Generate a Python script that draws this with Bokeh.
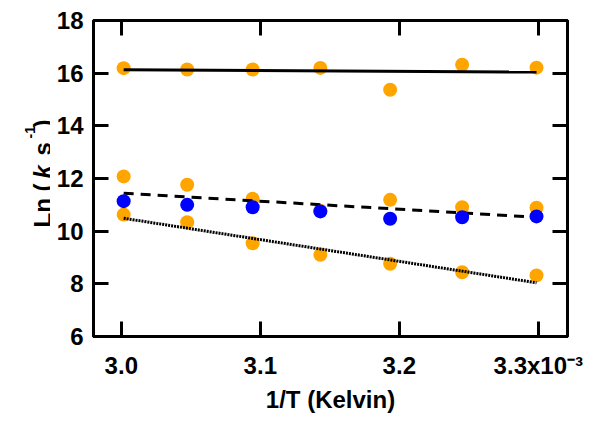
import math
from bokeh.plotting import figure
from bokeh.models import LinearAxis, FixedTicker, Range1d
from bokeh.layouts import row
from bokeh.core.properties import value
from bokeh.embed import file_html
from bokeh.resources import INLINE

# ---- data (1/T in units of 1e-3 K^-1) ----
inv_t = [3.0017, 3.0474, 3.0945, 3.1432, 3.1934, 3.2452, 3.2987]
top_orange = [16.19, 16.14, 16.14, 16.20, 15.37, 16.32, 16.21]
mid_orange = [12.08, 11.76, 11.23, 10.78, 11.19, 10.91, 10.89]
low_orange = [10.63, 10.34, 9.54, 9.10, 8.76, 8.44, 8.32]
blue_vals = [11.14, 11.00, 10.91, 10.75, 10.47, 10.53, 10.56]

fit_x = [3.0017, 3.2987]
fit_solid = [16.13, 16.04]
fit_dashed = [11.44, 10.53]
fit_dotted = [10.49, 8.04]

x_ticks = [3.0, 3.1, 3.2, 3.3]
x_tick_labels = ["3.0", "3.1", "3.2", "3.3x10\u207b\u00b3"]
y_ticks = [6, 8, 10, 12, 14, 16, 18]

ORANGE = "#FFA500"
BLUE = "#0000FF"
FONT = "Liberation Sans"

H = 417
LW = 50          # width of the y-title strip
W = 544          # width of main figure
FRAME_H = 316    # frame height (the row aligns both frames)

# ---- y-axis title strip (its frame is aligned with the main frame) ----
yl = figure(width=LW, height=H, output_backend="svg", toolbar_location=None,
            x_range=Range1d(0, LW), y_range=Range1d(0, FRAME_H),
            x_axis_type=None, y_axis_type=None,
            min_border_left=0, min_border_right=0,
            min_border_top=20, min_border_bottom=H - 336)
yl.grid.visible = False
yl.outline_line_color = None
yl.background_fill_color = "white"
yl.border_fill_color = "white"
pieces = [
    ("Ln (", 109, 42, "bold", "24px"),
    ("k", 158, 42, "bold italic", "24px"),
    ("s", 181, 42, "bold", "24px"),
    ("-1", 198, 29, "bold", "14px"),
    (")", 209, 42, "bold", "24px"),
]
for txt, yy, xx, style, fs in pieces:
    yl.text(x=[xx], y=[yy], text=[txt], angle=math.pi / 2,
            text_align="left", text_baseline="alphabetic",
            text_font=value(FONT), text_font_style=style,
            text_font_size=fs, text_color="black")

# ---- main plot ----
p = figure(width=W, height=H, output_backend="svg", toolbar_location=None,
           x_range=Range1d(2.98, 3.321), y_range=Range1d(6, 18),
           x_axis_type=None, y_axis_type=None)
p.min_border_left = 93 - LW
p.min_border_right = LW + W - 567
p.min_border_top = 20
p.min_border_bottom = H - 336
p.grid.visible = False
p.outline_line_color = "black"
p.outline_line_width = 3
p.background_fill_color = "white"
p.border_fill_color = "white"

def make_axis(ticks, show_labels):
    ax = LinearAxis(ticker=FixedTicker(ticks=ticks))
    ax.axis_line_width = 3
    ax.axis_line_color = "black"
    ax.major_tick_line_width = 3
    ax.major_tick_line_color = "black"
    ax.major_tick_in = 15
    ax.major_tick_out = 0
    ax.minor_tick_line_color = None
    if show_labels:
        ax.major_label_text_font = FONT
        ax.major_label_text_font_style = "bold"
        ax.major_label_text_font_size = "24px"
        ax.major_label_text_color = "black"
        ax.major_label_standoff = 10
    else:
        ax.major_label_text_font_size = "0px"
        ax.major_label_text_color = None
        ax.major_label_standoff = 0
    return ax

p.add_layout(make_axis(y_ticks, True), "left")
p.add_layout(make_axis(y_ticks, False), "right")
xb = make_axis(x_ticks, True)
xb.major_label_standoff = 15
xb.major_label_overrides = {t: l for t, l in zip(x_ticks, x_tick_labels)}
xb.axis_label = "1/T (Kelvin)"
xb.axis_label_text_font = FONT
xb.axis_label_text_font_style = "bold"
xb.axis_label_text_font_size = "24px"
xb.axis_label_text_color = "black"
xb.axis_label_standoff = 4
p.add_layout(xb, "below")
p.add_layout(make_axis(x_ticks, False), "above")

# markers
p.scatter(inv_t, top_orange, size=14, color=ORANGE, line_color=None)
p.scatter(inv_t, mid_orange, size=14, color=ORANGE, line_color=None)
p.scatter(inv_t, low_orange, size=14, color=ORANGE, line_color=None)

# fit lines
p.line(fit_x, fit_solid, line_width=3, color="black")
p.line(fit_x, fit_dashed, line_width=3, color="black", line_dash="10 7")
p.line(fit_x, fit_dotted, line_width=3, color="black", line_dash="2 1")

p.scatter(inv_t, blue_vals, size=14, color=BLUE, line_color=None)

layout = row(yl, p, spacing=0)
open("out.html", "w").write(file_html(layout, INLINE))
